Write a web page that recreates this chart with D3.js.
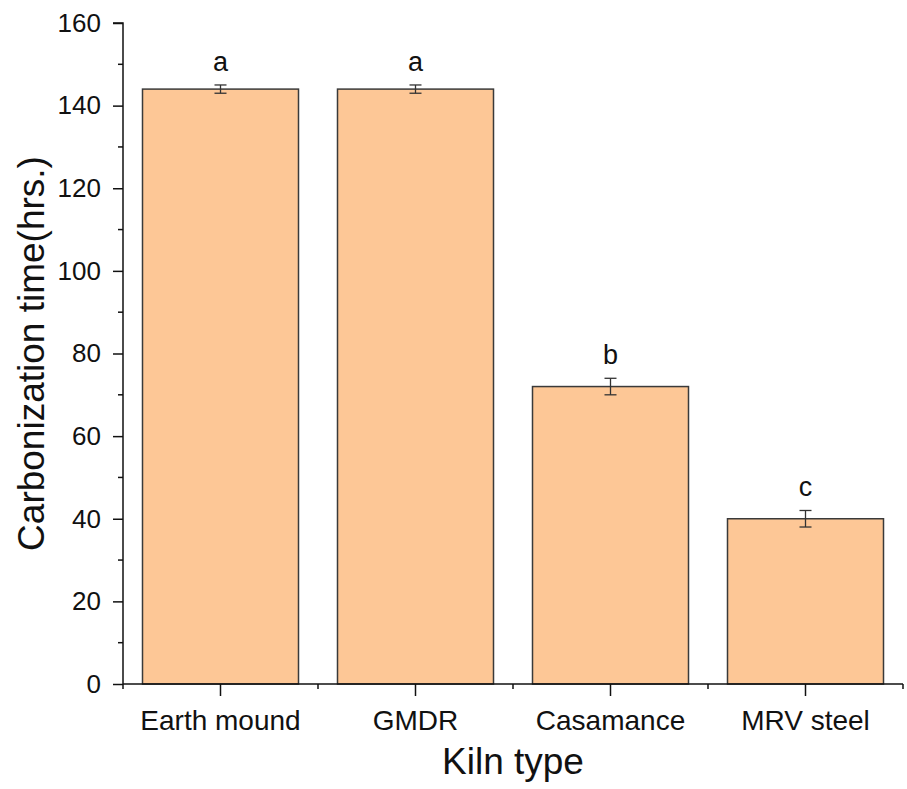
<!DOCTYPE html>
<html>
<head>
<meta charset="utf-8">
<script src="https://cdn.jsdelivr.net/npm/d3@7"></script>
<style>
  html, body { margin: 0; padding: 0; background: #fff; overflow: hidden; }
  svg { display: block; font-family: "Liberation Sans", Arial, sans-serif; }
</style>
</head>
<body>
<div id="chart"></div>
<script>
// ---- data ----
const kilns = ["Earth mound", "GMDR", "Casamance", "MRV steel"];
const meanHours = [144, 144, 72, 40];
const sdHours = [1, 1, 2, 2];
const groupLetters = ["a", "a", "b", "c"];
const yTicks = [0, 20, 40, 60, 80, 100, 120, 140, 160];

const width = 907, height = 789;
const margin = { top: 23, right: 4, bottom: 105, left: 123 };
const innerWidth = width - margin.left - margin.right;
const innerHeight = height - margin.top - margin.bottom;
const fontFamily = "Liberation Sans, Arial, sans-serif";

const rows = kilns.map((k, i) => ({ kiln: k, mean: meanHours[i], sd: sdHours[i], letter: groupLetters[i] }));

const svg = d3.select("#chart")
    .append("svg")
    .attr("width", width)
    .attr("height", height)
    .append("g")
    .attr("transform", `translate(${margin.left},${margin.top})`);

// ---- scales ----
const xScale = d3.scaleBand().domain(kilns).range([0, innerWidth]);
const yScale = d3.scaleLinear().domain([0, 160]).range([innerHeight, 0]);
const cx = d => xScale(d.kiln) + xScale.bandwidth() / 2;

// ---- bars ----
svg.selectAll(".bar")
    .data(rows)
    .join("rect")
    .attr("class", "bar")
    .attr("x", d => xScale(d.kiln) + xScale.bandwidth() * 0.1)
    .attr("y", d => yScale(d.mean))
    .attr("width", xScale.bandwidth() * 0.8)
    .attr("height", d => innerHeight - yScale(d.mean))
    .attr("fill", "#fdc796")
    .attr("stroke", "#3a3a3a")
    .attr("stroke-width", 1.5);

// ---- error bars ----
const err = svg.selectAll(".err").data(rows).join("g").attr("class", "err")
    .attr("stroke", "#333").attr("stroke-width", 1.3);
err.append("line").attr("x1", cx).attr("x2", cx)
    .attr("y1", d => yScale(d.mean + d.sd)).attr("y2", d => yScale(d.mean - d.sd));
err.append("line").attr("x1", d => cx(d) - 6).attr("x2", d => cx(d) + 6)
    .attr("y1", d => yScale(d.mean + d.sd)).attr("y2", d => yScale(d.mean + d.sd));
err.append("line").attr("x1", d => cx(d) - 6).attr("x2", d => cx(d) + 6)
    .attr("y1", d => yScale(d.mean - d.sd)).attr("y2", d => yScale(d.mean - d.sd));

// ---- significance letters ----
svg.selectAll(".letter").data(rows).join("text")
    .attr("class", "letter")
    .attr("x", cx)
    .attr("y", d => yScale(d.mean + d.sd) - 14)
    .attr("text-anchor", "middle")
    .attr("font-size", 27)
    .attr("fill", "#111")
    .text(d => d.letter);

// ---- y axis ----
const yAxis = svg.append("g")
    .attr("font-family", fontFamily)
    .call(d3.axisLeft(yScale).tickValues(yTicks).tickSize(10).tickPadding(12));
yAxis.selectAll("text").attr("font-size", 26).attr("fill", "#111");
yAxis.append("g").selectAll("line")
    .data(d3.range(10, 160, 20))
    .join("line")
    .attr("x1", -5).attr("x2", 0)
    .attr("y1", d => yScale(d)).attr("y2", d => yScale(d));
yAxis.selectAll("path, line").attr("stroke", "#111").attr("stroke-width", 1.5);
yAxis.select(".domain").attr("d", `M-10,0H0V${innerHeight}`);

// ---- x axis ----
const xAxis = svg.append("g")
    .attr("font-family", fontFamily)
    .attr("transform", `translate(0,${innerHeight})`)
    .call(d3.axisBottom(xScale).tickSize(12).tickPadding(14).tickSizeOuter(0));
xAxis.selectAll("text").attr("font-size", 28).attr("fill", "#111");
xAxis.append("g").selectAll("line")
    .data(kilns.map(k => xScale(k)).concat([innerWidth]))
    .join("line")
    .attr("x1", d => d).attr("x2", d => d)
    .attr("y1", 0).attr("y2", 5);
xAxis.selectAll("path, line").attr("stroke", "#111").attr("stroke-width", 1.5);
xAxis.select(".domain").attr("d", `M0,0H${innerWidth}`);

// ---- axis titles ----
svg.append("text")
    .attr("x", innerWidth / 2)
    .attr("y", innerHeight + 90)
    .attr("text-anchor", "middle")
    .attr("font-size", 37)
    .attr("fill", "#111")
    .text("Kiln type");

svg.append("text")
    .attr("transform", "rotate(-90)")
    .attr("x", -innerHeight / 2)
    .attr("y", -79)
    .attr("text-anchor", "middle")
    .attr("font-size", 37)
    .attr("fill", "#111")
    .text("Carbonization time(hrs.)");
</script>
</body>
</html>
